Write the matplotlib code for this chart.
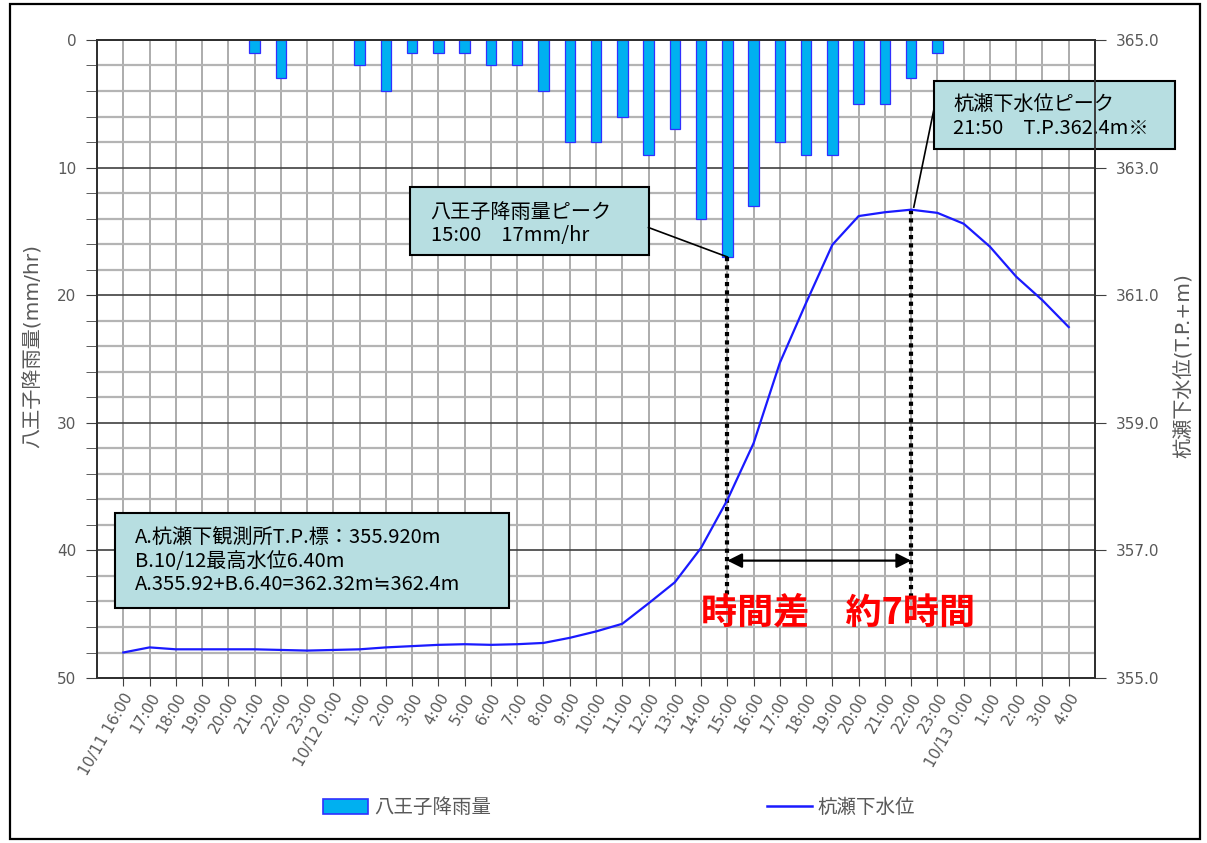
import numpy as np
import matplotlib.pyplot as plt
from matplotlib.patches import Rectangle, Patch
from matplotlib.lines import Line2D
from matplotlib.ticker import MultipleLocator

plt.rcParams['font.family'] = ['DejaVu Sans', 'Noto Sans CJK JP']
box_font = ['Noto Sans CJK JP', 'DejaVu Sans']

# hourly axis, 10/11 16:00 -> 10/13 4:00
time_labels = ['10/11 16:00', '17:00', '18:00', '19:00', '20:00', '21:00', '22:00', '23:00',
               '10/12 0:00', '1:00', '2:00', '3:00', '4:00', '5:00', '6:00', '7:00', '8:00',
               '9:00', '10:00', '11:00', '12:00', '13:00', '14:00', '15:00', '16:00', '17:00',
               '18:00', '19:00', '20:00', '21:00', '22:00', '23:00',
               '10/13 0:00', '1:00', '2:00', '3:00', '4:00']

# 八王子 rainfall (mm/hr)
rain = [0, 0, 0, 0, 0, 1, 3, 0, 0, 2, 4, 1, 1, 1, 2, 2, 4, 8, 8, 6, 9, 7, 14, 17, 13,
        8, 9, 9, 5, 5, 3, 1, 0, 0, 0, 0, 0]

# 杭瀬下 water level (T.P.+m)
level = [355.40, 355.48, 355.45, 355.45, 355.45, 355.45, 355.44, 355.43, 355.44, 355.45,
         355.48, 355.50, 355.52, 355.53, 355.52, 355.53, 355.55, 355.63, 355.73, 355.85,
         356.17, 356.50, 357.04, 357.79, 358.68, 359.94, 360.88, 361.79, 362.24, 362.30,
         362.34, 362.29, 362.12, 361.76, 361.29, 360.92, 360.50]

rain_peak_idx = 23   # 10/12 15:00
level_peak_idx = 30  # ~21:50

x = np.arange(len(time_labels))
gray = '#595959'

fig = plt.figure(figsize=(12.07, 8.43), dpi=100)
ax = fig.add_axes([0.0804, 0.1957, 0.8268, 0.7569])
ax2 = ax.twinx()

# grid
ax.set_axisbelow(True)
ax.yaxis.set_major_locator(MultipleLocator(10))
ax.yaxis.set_minor_locator(MultipleLocator(2))
ax.grid(which='minor', axis='y', color='#b4b4b4', lw=1.6)
ax.grid(which='major', axis='y', color='#404040', lw=1.2)
ax.grid(which='major', axis='x', color='#a6a6a6', lw=1.3)

# rain bars
rx = [i for i in x if rain[i] > 0]
rv = [rain[i] for i in rx]
ax.bar(rx, rv, width=0.4, color='#00b0f0', edgecolor='#3030ff', lw=0.9, zorder=2)

ax.set_xlim(-1, len(time_labels))
ax.set_ylim(50, 0)
ax.set_xticks(x)
ax.set_xticklabels(time_labels, rotation=60, ha='right', rotation_mode='anchor',
                   fontsize=11, color=gray)
ax.tick_params(axis='x', direction='out', length=6, color='#404040', pad=3)
ax.tick_params(axis='y', which='both', direction='out', length=8, color='#404040',
               labelsize=11, labelcolor=gray, pad=7)
ax.set_ylabel('八王子降雨量(mm/hr)', fontsize=14.5, color=gray)
ax.yaxis.set_label_coords(-0.054, 0.52)

# water level line
ax2.plot(x, level, color='#1a1aff', lw=1.6, zorder=3)
ax2.set_ylim(355, 365)
ax2.set_yticks([355, 357, 359, 361, 363, 365])
ax2.set_yticklabels(['%.1f' % v for v in [355, 357, 359, 361, 363, 365]])
ax2.tick_params(axis='y', direction='out', length=8, color='#404040',
                labelsize=11, labelcolor=gray, pad=7)
ax2.set_ylabel('杭瀬下水位(T.P.+m)', fontsize=14.5, color=gray, rotation=90)
ax2.yaxis.set_label_coords(1.08, 0.49)

for a in (ax, ax2):
    for s in a.spines.values():
        s.set_color('#303030')
        s.set_linewidth(1.3)

# peak markers (in rain-axis units: level -> mm)
level_peak_mm = (365 - level[level_peak_idx]) * 5
ax.plot([rain_peak_idx, rain_peak_idx], [rain[rain_peak_idx], 43.7], color='black',
        lw=3, ls=(0, (1, 1)), zorder=4)
ax.plot([level_peak_idx, level_peak_idx], [level_peak_mm, 43.7], color='black',
        lw=3, ls=(0, (1, 1)), zorder=4)
ax.annotate('', xy=(level_peak_idx, 40.8), xytext=(rain_peak_idx, 40.8),
            arrowprops=dict(arrowstyle='<|-|>', color='black', lw=1.6, mutation_scale=22,
                            shrinkA=0, shrinkB=0), zorder=5)
ax.text(27.2, 44.9, '時間差　約7時間', color='#ff0000', fontsize=26, fontweight='bold',
        family=box_font, ha='center', va='center', zorder=6)

box_fc = '#b7dee1'

# rain peak callout
ax.add_patch(Rectangle((10.9, 11.5), 9.1, 5.35, facecolor=box_fc, edgecolor='black',
                       lw=1.5, zorder=6))
ax.plot([20.0, rain_peak_idx], [14.7, rain[rain_peak_idx]], color='black', lw=1.2, zorder=6)
ax.text(11.7, 14.4, '八王子降雨量ピーク\n15:00　17mm/hr', fontsize=14.5, family=box_font,
        ha='left', va='center', linespacing=1.15, zorder=7)

# level peak callout
ax.add_patch(Rectangle((30.86, 3.2), 9.18, 5.34, facecolor=box_fc, edgecolor='black',
                       lw=1.5, zorder=6, clip_on=False))
ax.plot([30.86, level_peak_idx + 0.1], [5.5, level_peak_mm - 0.2], color='black',
        lw=1.2, zorder=6)
ax.text(31.6, 6.0, '杭瀬下水位ピーク\n21:50　T.P.362.4m※', fontsize=14.5, family=box_font,
        ha='left', va='center', linespacing=1.15, zorder=7, clip_on=False)

# note box
ax.add_patch(Rectangle((-0.3, 37.07), 14.97, 7.43, facecolor=box_fc, edgecolor='black',
                       lw=1.5, zorder=6))
ax.text(0.46, 40.85, 'A.杭瀬下観測所T.P.標：355.920m\nB.10/12最高水位6.40m\n'
        'A.355.92+B.6.40=362.32m≒362.4m', fontsize=14.5, family=box_font, ha='left',
        va='center', linespacing=1.15, zorder=7)

# legend
handles = [Patch(facecolor='#00b0f0', edgecolor='#3030ff', lw=1.2),
           Line2D([], [], color='#1a1aff', lw=1.8)]
fig.legend(handles, ['八王子降雨量', '杭瀬下水位'], loc='center', bbox_to_anchor=(0.513, 0.042),
           ncol=2, frameon=False, prop={'family': box_font, 'size': 14}, labelcolor=gray,
           handlelength=2.3, handleheight=0.8, handletextpad=0.3, columnspacing=14.2)

# outer frame
fig.patches.append(Rectangle((10 / 1207, 4 / 843), 1190 / 1207, 835 / 843,
                             transform=fig.transFigure, fill=False, edgecolor='black', lw=1.6))

fig.savefig('out.png', dpi=100)
